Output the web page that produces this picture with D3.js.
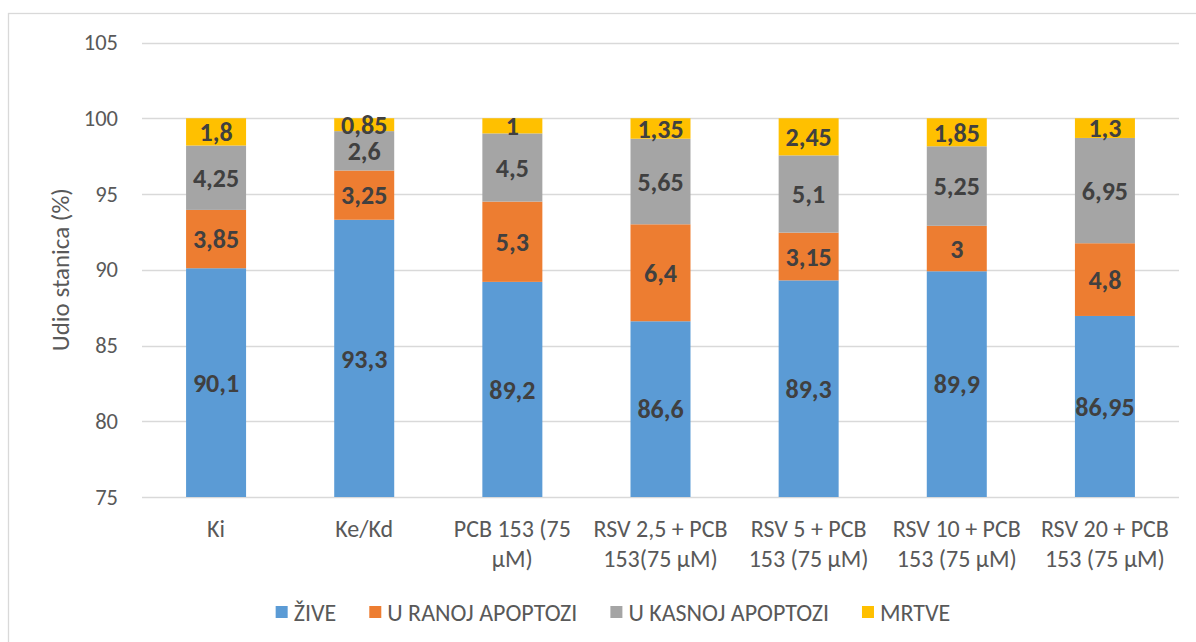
<!DOCTYPE html>
<html>
<head>
<meta charset="utf-8">
<script src="https://cdn.jsdelivr.net/npm/d3@7"></script>
<style>
  html, body { margin: 0; padding: 0; background: #fff; }
  svg { display: block; }
  text { font-family: Carlito, Lato, "Open Sans", sans-serif; }
</style>
</head>
<body>
<svg id="chart" width="1196" height="642"></svg>
<script>
// ---- data ----
const categories = ["Ki", "Ke/Kd", "PCB 153 (75 μM)", "RSV 2,5 + PCB 153(75 μM)",
  "RSV 5 + PCB 153 (75 μM)", "RSV 10 + PCB 153 (75 μM)", "RSV 20 + PCB 153 (75 μM)"];
const categoryLines = [["Ki"], ["Ke/Kd"], ["PCB 153 (75", "μM)"], ["RSV 2,5 + PCB", "153(75 μM)"],
  ["RSV 5 + PCB", "153 (75 μM)"], ["RSV 10 + PCB", "153 (75 μM)"], ["RSV 20 + PCB", "153 (75 μM)"]];
const seriesNames = ["ŽIVE", "U RANOJ APOPTOZI", "U KASNOJ APOPTOZI", "MRTVE"];
const zive   = [90.1, 93.3, 89.2, 86.6, 89.3, 89.9, 86.95];
const rana   = [3.85, 3.25, 5.3, 6.4, 3.15, 3, 4.8];
const kasna  = [4.25, 2.6, 4.5, 5.65, 5.1, 5.25, 6.95];
const mrtve  = [1.8, 0.85, 1, 1.35, 2.45, 1.85, 1.3];
const yTicks = [75, 80, 85, 90, 95, 100, 105];
const yTitle = "Udio stanica (%)";
const colors = ["#5B9BD5", "#ED7D31", "#A5A5A5", "#FFC000"];

const fmt = v => String(v).replace(".", ",");

// ---- layout ----
const svg = d3.select("#chart");
const pLeft = 142, pRight = 1179, pTop = 42.5, pBottom = 497;

svg.append("rect").attr("x", 8.5).attr("y", 13.5).attr("width", 1200).attr("height", 700)
  .attr("fill", "#fff").attr("stroke", "#D9D9D9").attr("stroke-width", 1.3);

const x = d3.scaleBand().domain(categories).range([pLeft, pRight]).paddingInner(0.595).paddingOuter(0.2975);
const y = d3.scaleLinear().domain([75, 105]).range([pBottom, pTop]);

// gridlines
svg.append("g").selectAll("line").data(yTicks).join("line")
  .attr("x1", pLeft).attr("x2", pRight)
  .attr("y1", d => Math.round(y(d)) + 0.5).attr("y2", d => Math.round(y(d)) + 0.5)
  .attr("stroke", "#D9D9D9").attr("stroke-width", 1.4);

// y axis labels via d3 axis
const yAxis = svg.append("g").attr("transform", `translate(${pLeft},0)`)
  .call(d3.axisLeft(y).tickValues(yTicks).tickSize(0).tickPadding(24));
yAxis.select(".domain").remove();
yAxis.selectAll("text").attr("fill", "#595959").style("font-size", "22.5px")
  .style("font-family", "Carlito, Lato, sans-serif");

// y title
svg.append("text").attr("transform", `translate(69,${(pTop + pBottom) / 2}) rotate(-90)`)
  .attr("text-anchor", "middle").attr("fill", "#595959").style("font-size", "25px").text(yTitle);

// stacked data
const rows = categories.map((c, i) => ({cat: c, s0: zive[i], s1: rana[i], s2: kasna[i], s3: mrtve[i]}));
const stack = d3.stack().keys(["s0", "s1", "s2", "s3"])(rows);

const gBars = svg.append("g");
stack.forEach((layer, li) => {
  gBars.append("g").selectAll("rect").data(layer).join("rect")
    .attr("x", d => x(d.data.cat))
    .attr("width", x.bandwidth())
    .attr("y", d => y(Math.min(d[1], 105)))
    .attr("height", d => y(Math.max(d[0], 75)) - y(Math.min(d[1], 105)))
    .attr("fill", colors[li]);
});

// data labels
const gLab = svg.append("g");
stack.forEach((layer, li) => {
  gLab.append("g").selectAll("text").data(layer).join("text")
    .attr("x", d => x(d.data.cat) + x.bandwidth() / 2)
    .attr("y", d => (y(Math.max(d[0], 75)) + y(d[1])) / 2)
    .attr("dy", "0.36em")
    .attr("text-anchor", "middle")
    .attr("fill", "#404040")
    .style("font-size", "26px").style("font-weight", "bold")
    .text(d => fmt(+(d[1] - d[0]).toFixed(2)));
});

// x labels
const gx = svg.append("g");
categories.forEach((c, i) => {
  const t = gx.append("text").attr("text-anchor", "middle").attr("fill", "#595959")
    .style("font-size", "24px");
  categoryLines[i].forEach((line, k) => {
    t.append("tspan").attr("x", x(c) + x.bandwidth() / 2).attr("y", 537 + k * 30).text(line);
  });
});

// legend
const legend = svg.append("g");
let lx = 0;
seriesNames.forEach((name, i) => {
  const g = legend.append("g").attr("transform", `translate(${lx},0)`);
  g.append("rect").attr("x", 0).attr("y", -6).attr("width", 12).attr("height", 12).attr("fill", colors[i]);
  const t = g.append("text").attr("x", 18).attr("y", 0).attr("dy", "0.36em").attr("fill", "#595959")
    .style("font-size", "24px").text(name);
  lx += 18 + t.node().getComputedTextLength() + 33;
});
const legendWidth = lx - 33;
legend.attr("transform", `translate(${613 - legendWidth / 2},612)`);
</script>
</body>
</html>
